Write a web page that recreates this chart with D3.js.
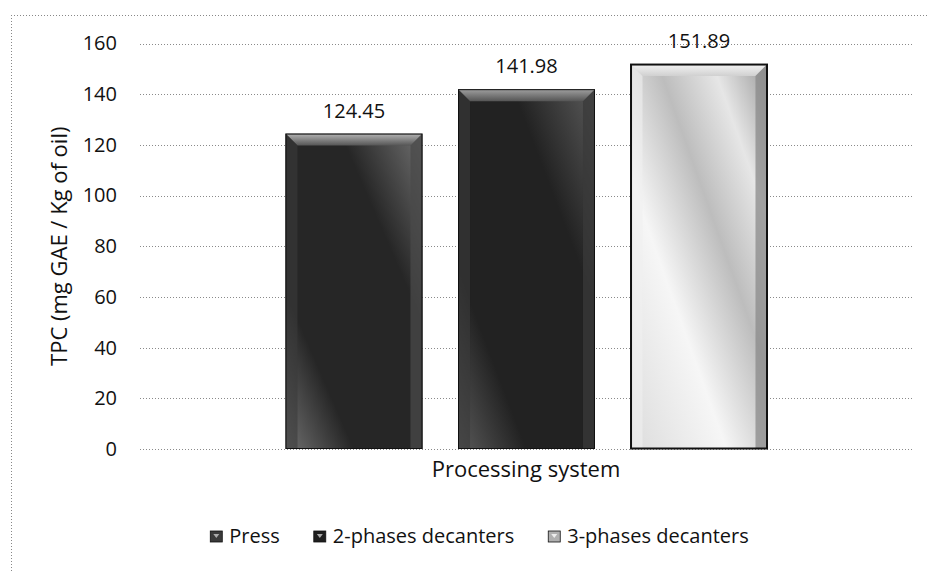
<!DOCTYPE html>
<html>
<head>
<meta charset="utf-8">
<script src="https://cdn.jsdelivr.net/npm/d3@7"></script>
<style>
  html, body { margin: 0; padding: 0; background: #fff; }
  svg { display: block; }
  text { font-family: "Open Sans", "Noto Sans", sans-serif; fill: #111; }
</style>
</head>
<body>
<svg id="chart" width="933" height="572"></svg>
<script>
// ---- data ----
const seriesNames = ["Press", "2-phases decanters", "3-phases decanters"];
const seriesValues = [124.45, 141.98, 151.89];
const valueLabels = ["124.45", "141.98", "151.89"];
const categoryLabel = "Processing system";
const yTicks = [0, 20, 40, 60, 80, 100, 120, 140, 160];
const yTitle = "TPC (mg GAE / Kg of oil)";

// ---- styles ----
const bodyDark = ["#262626", "#222222", "#e6e6e6"];
const bodyLight = ["#707070", "#5a5a5a", "#f6f6f6"];
const bevelTop = ["#b4b4b4", "#a0a0a0", "#f4f4f4"];
const bevelSide = ["#4a4a4a", "#3a3a3a", "#8a8a8a"];
const strokeCol = ["#111", "#111", "#111"];

const svg = d3.select("#chart");
const W = 933, H = 572;
const plot = { left: 140, right: 913, top: 43.5, bottom: 449 };

// outer dotted frame (top + left)
svg.append("line").attr("x1", 11).attr("x2", 928).attr("y1", 15.5).attr("y2", 15.5)
  .attr("stroke", "#888").attr("stroke-dasharray", "1,2");
svg.append("line").attr("x1", 11.5).attr("x2", 11.5).attr("y1", 15).attr("y2", H)
  .attr("stroke", "#888").attr("stroke-dasharray", "1,2");

const y = d3.scaleLinear().domain([0, 160]).range([plot.bottom, plot.top]);
const cx = (plot.left + plot.right) / 2;
const x = d3.scaleBand().domain(seriesNames)
  .range([cx - 241, cx + 241]).paddingInner(0.206).paddingOuter(0);

// gridlines
svg.append("g").selectAll("line").data(yTicks).join("line")
  .attr("x1", plot.left).attr("x2", plot.right)
  .attr("y1", d => Math.round(y(d)) + 0.5).attr("y2", d => Math.round(y(d)) + 0.5)
  .attr("stroke", "#8a8a8a").attr("stroke-dasharray", "1,2");

// y axis labels
const yAxis = d3.axisLeft(y).tickValues(yTicks).tickSize(0).tickPadding(0);
const gy = svg.append("g").attr("transform", "translate(117,0)").call(yAxis);
gy.select(".domain").remove();
gy.selectAll("text").style("font-size", "20px").attr("fill", "#111")
  .style("font-family", "'Open Sans', sans-serif");

// gradients
const defs = svg.append("defs");
seriesNames.forEach((s, i) => {
  const g = defs.append("linearGradient").attr("id", "g" + i)
    .attr("x1", "0").attr("y1", "1").attr("x2", "1").attr("y2", "0");
  if (i < 2) {
    g.append("stop").attr("offset", "0").attr("stop-color", bodyLight[i]);
    g.append("stop").attr("offset", "0.25").attr("stop-color", bodyDark[i]);
    g.append("stop").attr("offset", "0.7").attr("stop-color", bodyDark[i]);
    g.append("stop").attr("offset", "1").attr("stop-color", bodyLight[i]);
  } else {
    g.append("stop").attr("offset", "0").attr("stop-color", "#dcdcdc");
    g.append("stop").attr("offset", "0.35").attr("stop-color", bodyLight[i]);
    g.append("stop").attr("offset", "0.6").attr("stop-color", "#bdbdbd");
    g.append("stop").attr("offset", "0.8").attr("stop-color", bodyDark[i]);
    g.append("stop").attr("offset", "1").attr("stop-color", "#9a9a9a");
  }
  const t = defs.append("linearGradient").attr("id", "t" + i)
    .attr("x1", "0").attr("y1", "0").attr("x2", "0").attr("y2", "1");
  t.append("stop").attr("offset", "0").attr("stop-color", bevelTop[i]);
  t.append("stop").attr("offset", "1").attr("stop-color", i < 2 ? "#555" : "#d0d0d0");
});

// bars
const bev = 12;
const bars = svg.append("g").selectAll("g").data(seriesNames).join("g");
bars.each(function (s, i) {
  const g = d3.select(this);
  const x0 = x(s), x1 = x(s) + x.bandwidth();
  const yt = y(seriesValues[i]), yb = y(0);
  g.append("rect").attr("x", x0).attr("y", yt).attr("width", x1 - x0).attr("height", yb - yt)
    .attr("fill", `url(#g${i})`);
  // top bevel
  g.append("path").attr("d", `M${x0},${yt}L${x1},${yt}L${x1 - bev},${yt + bev}L${x0 + bev},${yt + bev}Z`)
    .attr("fill", `url(#t${i})`);
  // right bevel
  g.append("path").attr("d", `M${x1},${yt}L${x1},${yb}L${x1 - bev},${yb}L${x1 - bev},${yt + bev}Z`)
    .attr("fill", bevelSide[i]).attr("opacity", 0.75);
  // left bevel
  g.append("path").attr("d", `M${x0},${yt}L${x0 + bev},${yt + bev}L${x0 + bev},${yb}L${x0},${yb}Z`)
    .attr("fill", i < 2 ? "#3a3a3a" : "#f0f0f0").attr("opacity", 0.6);
  g.append("rect").attr("x", x0 + 0.5).attr("y", yt + 0.5).attr("width", x1 - x0 - 1).attr("height", yb - yt - 1)
    .attr("fill", "none").attr("stroke", strokeCol[i]).attr("stroke-width", i === 2 ? 2 : 1);
  // value label
  g.append("text").attr("x", (x0 + x1) / 2).attr("y", yt - 16)
    .attr("text-anchor", "middle").style("font-size", "20px").text(valueLabels[i]);
});

// x axis title
svg.append("text").attr("x", 526).attr("y", 477).attr("text-anchor", "middle")
  .style("font-size", "22px").text(categoryLabel);

// y axis title
svg.append("text").attr("transform", `translate(67,${(plot.top + plot.bottom) / 2}) rotate(-90)`)
  .attr("text-anchor", "middle").style("font-size", "22px").text(yTitle);

// legend
const legend = svg.append("g");
const legendFill = ["#3a3a3a", "#1e1e1e", "#b0b0b0"];
const items = [];
seriesNames.forEach((s, i) => {
  const it = legend.append("g");
  it.append("rect").attr("x", 0).attr("y", -12).attr("width", 12).attr("height", 11)
    .attr("fill", legendFill[i]).attr("stroke", "#111").attr("stroke-width", 0.8);
  it.append("path").attr("d", "M3,-9L9,-9L6,-5Z").attr("fill", i < 2 ? "#aaa" : "#eee");
  const t = it.append("text").attr("x", 19).attr("y", 0).style("font-size", "20px").text(s);
  const w = 19 + t.node().getComputedTextLength();
  items.push({ it, w });
});
const gapL = 34;
const total = items.reduce((a, b) => a + b.w, 0) + gapL * (items.length - 1);
let start = 479.5 - total / 2;
items.forEach(d => {
  d.it.attr("transform", `translate(${start},543)`);
  start += d.w + gapL;
});
</script>
</body>
</html>
